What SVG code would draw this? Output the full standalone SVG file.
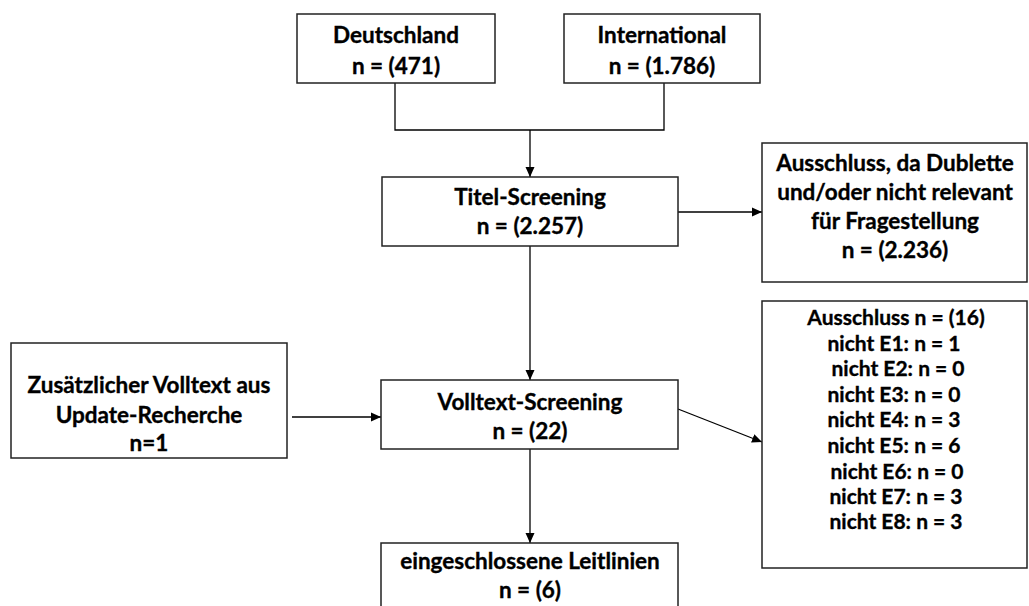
<svg xmlns="http://www.w3.org/2000/svg" width="1029" height="606" viewBox="0 0 1029 606">
<defs>
<marker id="ah" viewBox="0 0 10 10" refX="10" refY="5" markerWidth="10" markerHeight="10" markerUnits="userSpaceOnUse" orient="auto">
<path d="M0,0.5 L10,5 L0,9.5 Z" fill="#000"/>
</marker>
<style>
.box{fill:#fff;stroke:#222;stroke-width:1.5}
.t{font-family:Lato,"Liberation Sans",sans-serif;font-weight:bold;font-size:22.5px;fill:#000;stroke:#000;stroke-width:0.35;text-anchor:middle}
.s{font-size:21px}
.c{fill:none;stroke:#000;stroke-width:1.3}
</style>
</defs>
<rect width="1029" height="606" fill="#fff"/>
<g id="connectors">
<polyline class="c" points="395,83 395,130 664,130 664,83"/>
<line class="c" x1="530" y1="130" x2="530" y2="177" marker-end="url(#ah)"/>
<line class="c" x1="678" y1="212" x2="762" y2="212" marker-end="url(#ah)"/>
<line class="c" x1="530" y1="246" x2="530" y2="380" marker-end="url(#ah)"/>
<line class="c" x1="292" y1="417" x2="381" y2="417" marker-end="url(#ah)"/>
<line class="c" x1="678" y1="409" x2="762" y2="442" marker-end="url(#ah)"/>
<line class="c" x1="530" y1="449" x2="530" y2="543" marker-end="url(#ah)"/>
</g>
<g id="deutschland">
<rect class="box" x="297" y="14" width="198" height="69"/>
<text class="t" x="396" y="43">Deutschland</text>
<text class="t" x="396" y="74">n = (471)</text>
</g>
<g id="international">
<rect class="box" x="564" y="14" width="196" height="69"/>
<text class="t" x="662" y="43">International</text>
<text class="t" x="662" y="74">n = (1.786)</text>
</g>
<g id="titel">
<rect class="box" x="382" y="177" width="296" height="69"/>
<text class="t" x="530" y="205">Titel-Screening</text>
<text class="t" x="530" y="234">n = (2.257)</text>
</g>
<g id="ausschluss1">
<rect class="box" x="762" y="143" width="265" height="139"/>
<text class="t" x="895" y="171">Ausschluss, da Dublette</text>
<text class="t" x="895" y="200">und/oder nicht relevant</text>
<text class="t" x="895" y="229">für Fragestellung</text>
<text class="t" x="895" y="258">n = (2.236)</text>
</g>
<g id="zusaetzlich">
<rect class="box" x="11" y="343" width="276" height="115"/>
<text class="t" x="149" y="393">Zusätzlicher Volltext aus</text>
<text class="t" x="149" y="423">Update-Recherche</text>
<text class="t" x="149" y="451">n=1</text>
</g>
<g id="volltext">
<rect class="box" x="381" y="380" width="297" height="69"/>
<text class="t" x="530" y="410">Volltext-Screening</text>
<text class="t" x="530" y="439">n = (22)</text>
</g>
<g id="ausschluss2">
<rect class="box" x="762" y="301" width="265" height="267"/>
<text class="t s" x="896" y="325">Ausschluss n = (16)</text>
<text class="t s" x="894" y="351">nicht E1: n = 1</text>
<text class="t s" x="898" y="376">nicht E2: n = 0</text>
<text class="t s" x="894" y="402">nicht E3: n = 0</text>
<text class="t s" x="894" y="427">nicht E4: n = 3</text>
<text class="t s" x="894" y="453">nicht E5: n = 6</text>
<text class="t s" x="897" y="479">nicht E6: n = 0</text>
<text class="t s" x="896" y="504">nicht E7: n = 3</text>
<text class="t s" x="896" y="529">nicht E8: n = 3</text>
</g>
<g id="eingeschlossen">
<rect class="box" x="381" y="543" width="297" height="70"/>
<text class="t" x="530" y="569">eingeschlossene Leitlinien</text>
<text class="t" x="530" y="598">n = (6)</text>
</g>
</svg>
